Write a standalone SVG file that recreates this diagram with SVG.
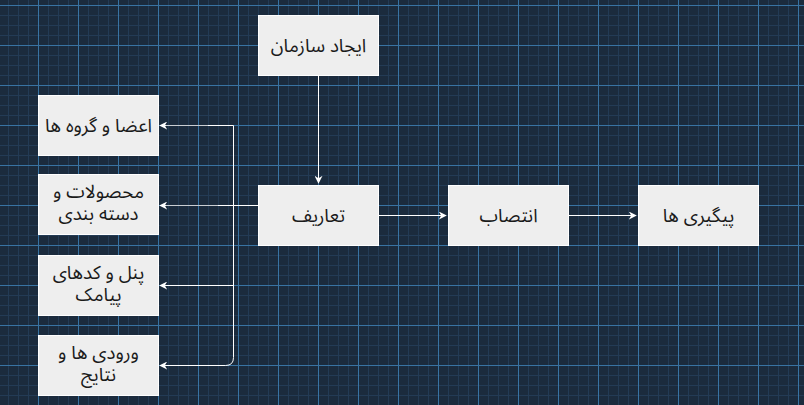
<svg xmlns="http://www.w3.org/2000/svg" width="804" height="405" viewBox="0 0 804 405">
  <defs>
    <pattern id="minor" x="8" y="5" width="10" height="10" patternUnits="userSpaceOnUse">
      <path d="M0.5 0V10M0 0.5H10" stroke="#233b55" stroke-width="1" fill="none" shape-rendering="crispEdges"/>
    </pattern>
    <pattern id="major" x="38" y="5" width="40" height="40" patternUnits="userSpaceOnUse">
      <path d="M0.5 0V40M0 0.5H40" stroke="#3873a3" stroke-width="1" fill="none" shape-rendering="crispEdges"/>
    </pattern>
    <marker id="arr" viewBox="0 0 10 10" refX="9" refY="5" markerWidth="8" markerHeight="8" markerUnits="userSpaceOnUse" orient="auto">
      <path d="M0 0L10 5L0 10L3 5Z" fill="#ffffff"/>
    </marker>
    <style>
      .node rect { fill: #eeeeee; stroke: #ffffff; stroke-width: 1; }
      .node text { font-family: "Noto Sans Arabic", "Noto Sans", "DejaVu Sans", sans-serif; font-size: 18.7px; fill: #1a1a1a; text-anchor: middle; }
      .edge { fill: none; stroke: #ffffff; stroke-width: 1; }
    </style>
  </defs>
  <rect width="804" height="405" fill="#1b2b3d"/>
  <rect width="804" height="405" fill="url(#minor)"/>
  <rect width="804" height="405" fill="url(#major)"/>

  <g id="connectors">
    <path class="edge" d="M318.5 75V183" marker-end="url(#arr)"/>
    <path class="edge" d="M378 215.5H446" marker-end="url(#arr)"/>
    <path class="edge" d="M568 215.5H636" marker-end="url(#arr)"/>
    <path class="edge" d="M258 205.5H160" marker-end="url(#arr)"/>
    <path class="edge" d="M258 205.5H233.5V125.5H160" marker-end="url(#arr)"/>
    <path class="edge" d="M258 205.5H233.5V285.5H160" marker-end="url(#arr)"/>
    <path class="edge" d="M258 205.5H233.5V357.5Q233.5 365.5 225.5 365.5H160" marker-end="url(#arr)"/>
    <path d="M166 125.5H208M166 205.5H218" stroke="#c8cdd2" stroke-width="1"/>
  </g>

  <g id="n-ijad" class="node">
    <rect x="258.5" y="15.5" width="120" height="60"/>
    <text x="318.5" y="52" direction="rtl">ایجاد سازمان</text>
  </g>
  <g id="n-tarif" class="node">
    <rect x="258.5" y="185.5" width="120" height="60"/>
    <text x="318.5" y="222" direction="rtl">تعاریف</text>
  </g>
  <g id="n-entesab" class="node">
    <rect x="448.5" y="185.5" width="120" height="60"/>
    <text x="508.5" y="222" direction="rtl">انتصاب</text>
  </g>
  <g id="n-peygiri" class="node">
    <rect x="638.5" y="185.5" width="120" height="60"/>
    <text x="698.5" y="222" direction="rtl">پیگیری ها</text>
  </g>
  <g id="n-aza" class="node">
    <rect x="38.5" y="95.5" width="120" height="60"/>
    <text x="98.5" y="132" direction="rtl">اعضا و گروه ها</text>
  </g>
  <g id="n-mahsulat" class="node">
    <rect x="38.5" y="174.5" width="120" height="60"/>
    <text x="98.5" y="198" direction="rtl">محصولات و</text>
    <text x="98.5" y="220" direction="rtl">دسته بندی</text>
  </g>
  <g id="n-panel" class="node">
    <rect x="38.5" y="255.5" width="120" height="60"/>
    <text x="98.5" y="279" direction="rtl">پنل و کدهای</text>
    <text x="98.5" y="301" direction="rtl">پیامک</text>
  </g>
  <g id="n-vorudi" class="node">
    <rect x="38.5" y="335.5" width="120" height="60"/>
    <text x="98.5" y="359" direction="rtl">ورودی ها و</text>
    <text x="98.5" y="381" direction="rtl">نتایج</text>
  </g>
</svg>
